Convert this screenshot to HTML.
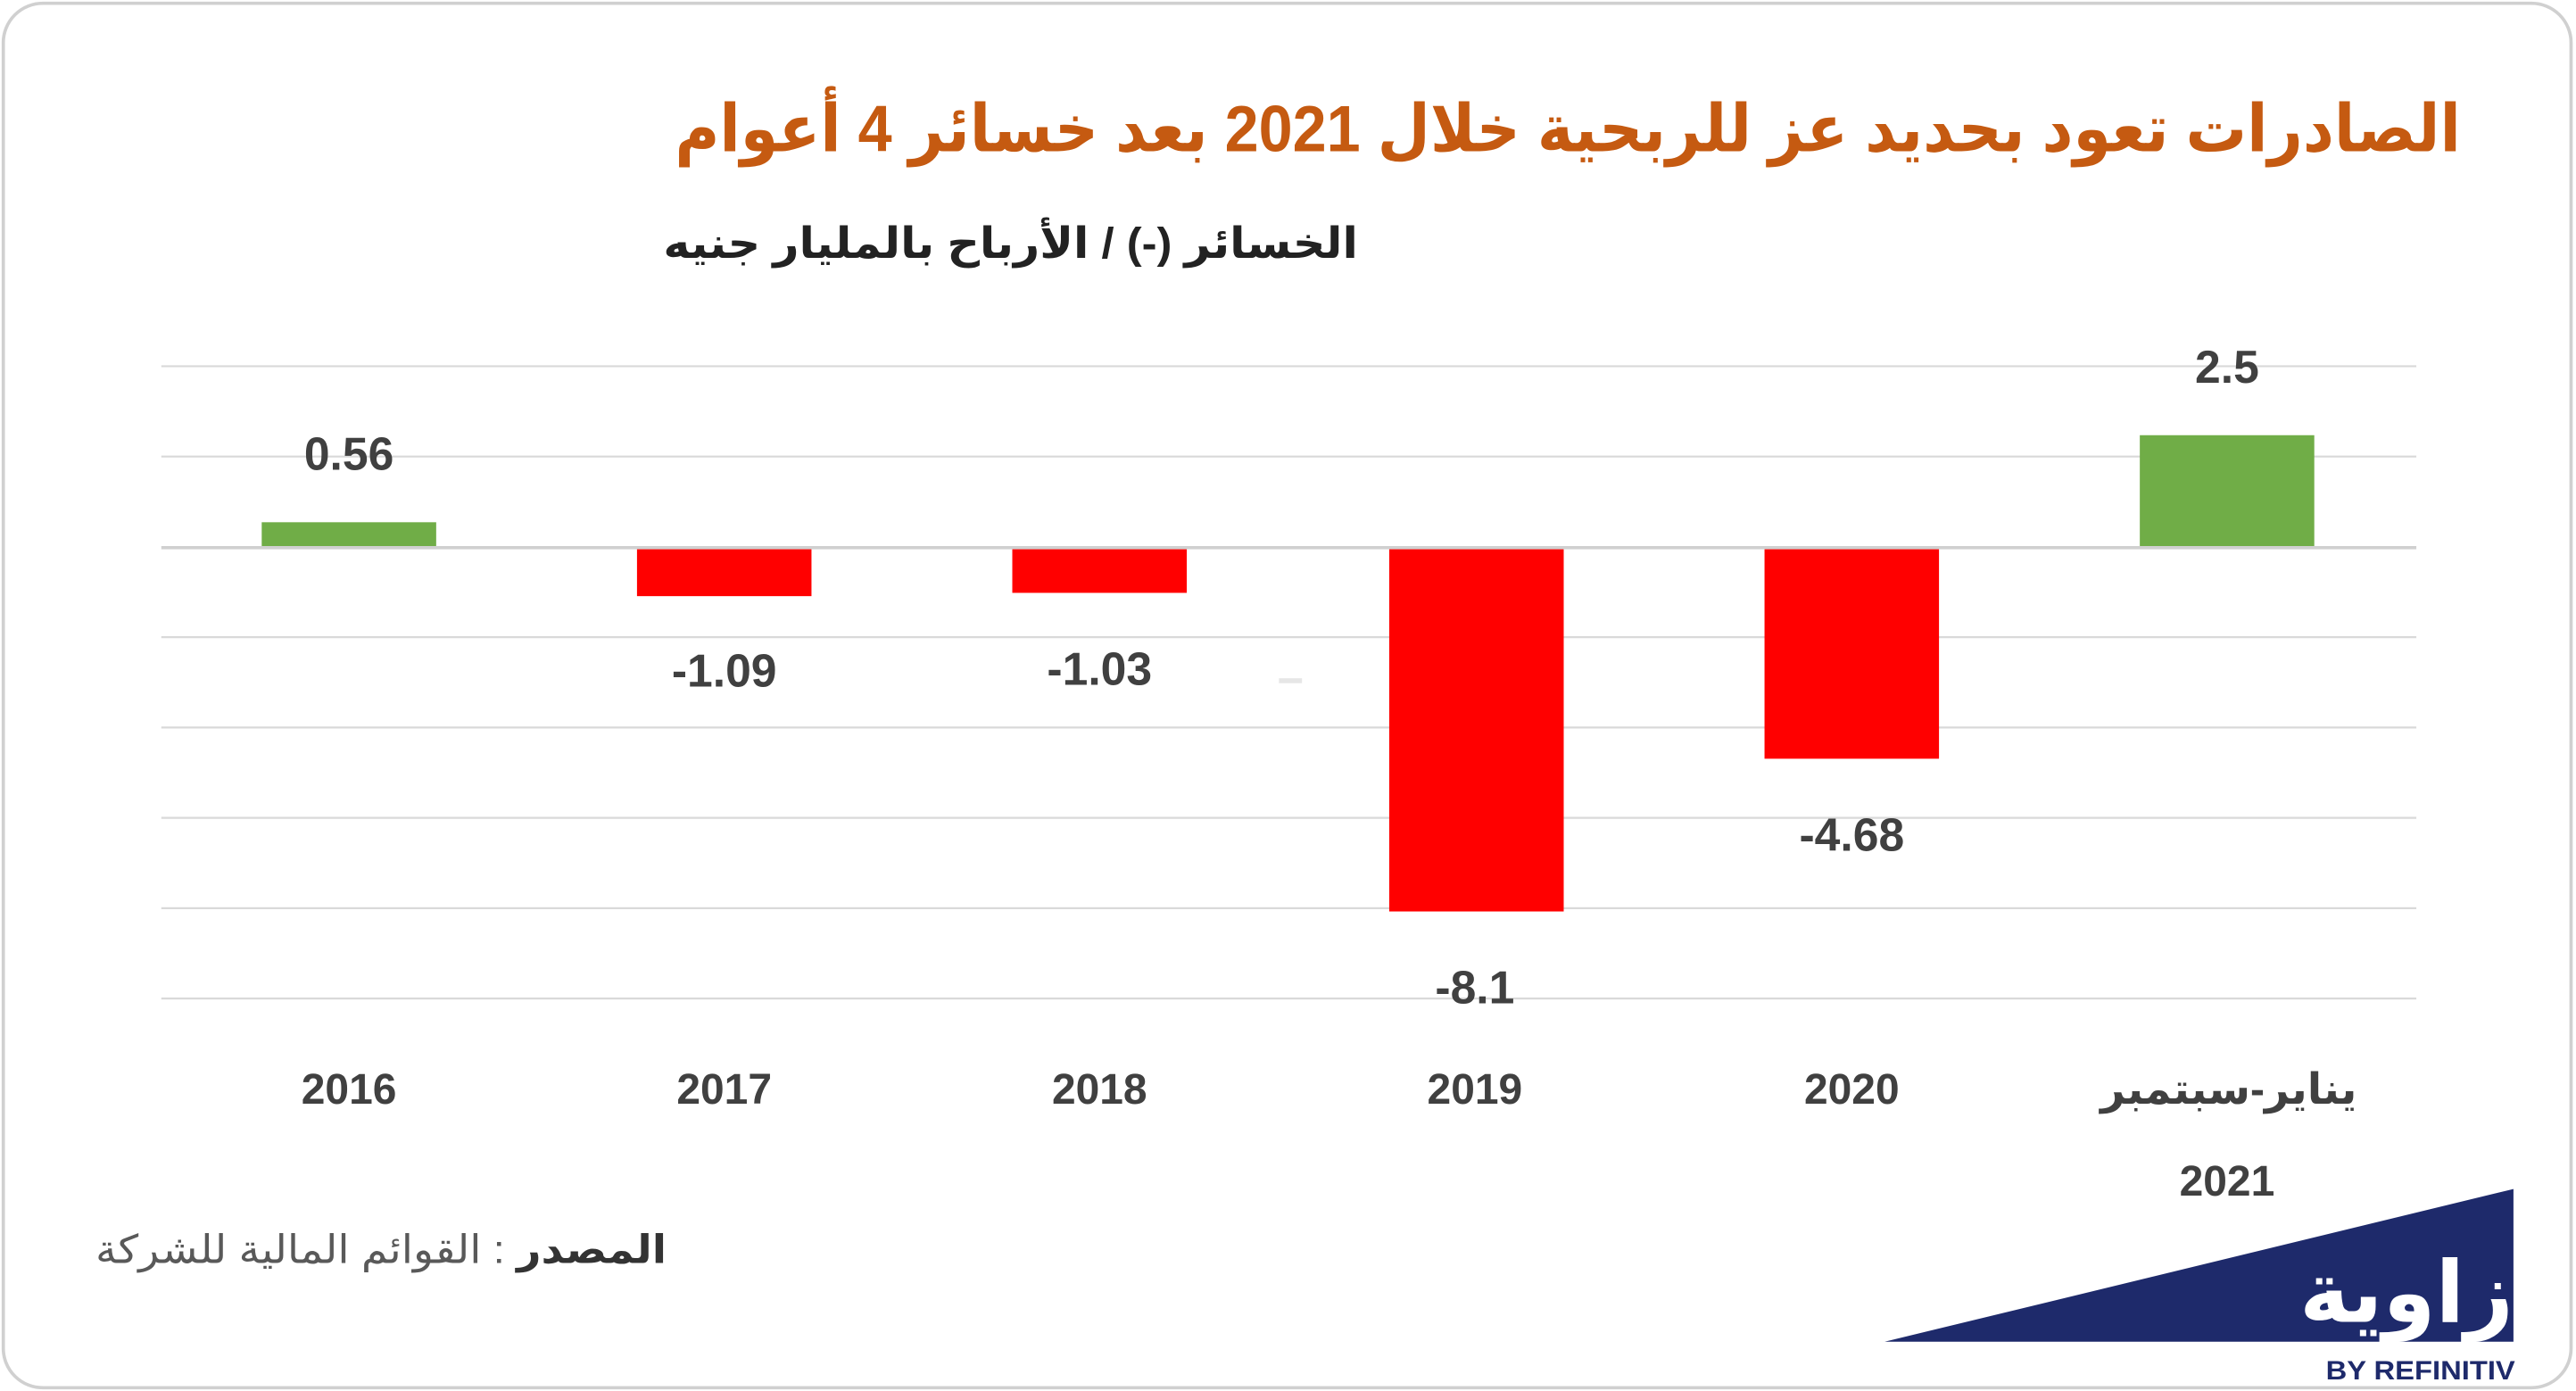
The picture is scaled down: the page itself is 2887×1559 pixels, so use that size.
<!DOCTYPE html>
<html><head><meta charset="utf-8"><style>
html,body{margin:0;padding:0;background:#fff;}
svg{display:block;}
text{font-family:"Liberation Sans","Noto Sans CJK SC","DejaVu Sans",sans-serif;}
</style></head><body>
<svg width="2887" height="1559" viewBox="0 0 1565 847" preserveAspectRatio="none" xmlns="http://www.w3.org/2000/svg">
<rect x="0" y="0" width="1565" height="847" fill="#fff"/>
<rect x="2" y="2" width="1560" height="843" rx="24" ry="24" fill="#fff" stroke="#d0d0d0" stroke-width="2"/>
<text x="1495" y="92" text-anchor="start" direction="rtl" font-size="40" font-weight="bold" fill="#c55a11" textLength="1085" lengthAdjust="spacingAndGlyphs">الصادرات تعود بحديد عز للربحية خلال 2021 بعد خسائر 4 أعوام</text>
<text x="825" y="157" text-anchor="start" direction="rtl" font-size="26" font-weight="bold" fill="#222" textLength="422" lengthAdjust="spacingAndGlyphs">الخسائر (-) / الأرباح بالمليار جنيه</text>
<g stroke="#d9d9d9" stroke-width="1.2">
<line x1="98" x2="1468" y1="223" y2="223"/>
<line x1="98" x2="1468" y1="278" y2="278"/>
<line x1="98" x2="1468" y1="388" y2="388"/>
<line x1="98" x2="1468" y1="443" y2="443"/>
<line x1="98" x2="1468" y1="498" y2="498"/>
<line x1="98" x2="1468" y1="553" y2="553"/>
<line x1="98" x2="1468" y1="608" y2="608"/>
</g>
<rect x="159" y="318" width="106" height="15" fill="#70ad47"/>
<rect x="387" y="334" width="106" height="29" fill="#ff0000"/>
<rect x="615" y="334" width="106" height="27" fill="#ff0000"/>
<rect x="844" y="334" width="106" height="221" fill="#ff0000"/>
<rect x="1072" y="334" width="106" height="128" fill="#ff0000"/>
<rect x="1300" y="265" width="106" height="68" fill="#70ad47"/>
<line x1="98" x2="1468" y1="333.5" y2="333.5" stroke="#d0d0d0" stroke-width="2"/>
<rect x="777" y="413" width="14" height="3" fill="#e6e6e6"/>
<g font-size="28" font-weight="bold" fill="#404040" text-anchor="middle">
<text x="212" y="286">0.56</text>
<text x="440" y="418">-1.09</text>
<text x="668" y="417">-1.03</text>
<text x="896" y="611">-8.1</text>
<text x="1125" y="518">-4.68</text>
<text x="1353" y="233">2.5</text>
</g>
<g font-size="26" font-weight="bold" fill="#404040" text-anchor="middle">
<text x="212" y="672">2016</text>
<text x="440" y="672">2017</text>
<text x="668" y="672">2018</text>
<text x="896" y="672">2019</text>
<text x="1125" y="672">2020</text>
<text x="1354" y="672" direction="rtl">يناير-سبتمبر</text>
<text x="1353" y="728">2021</text>
</g>
<text x="405" y="769" text-anchor="start" direction="rtl" font-size="24" fill="#595959" textLength="347" lengthAdjust="spacingAndGlyphs"><tspan font-weight="bold" fill="#333">المصدر</tspan> : القوائم المالية للشركة</text>
<polygon points="1145,817 1527,724 1527,817" fill="#1e2a6b"/>
<text x="1527" y="805" text-anchor="start" direction="rtl" font-size="52" font-weight="bold" fill="#fff" textLength="130" lengthAdjust="spacingAndGlyphs">زاوية</text>
<text x="1528" y="840" text-anchor="end" font-size="16" font-weight="bold" fill="#1e2a6b" textLength="115" lengthAdjust="spacingAndGlyphs">BY REFINITIV</text>
</svg>
</body></html>
